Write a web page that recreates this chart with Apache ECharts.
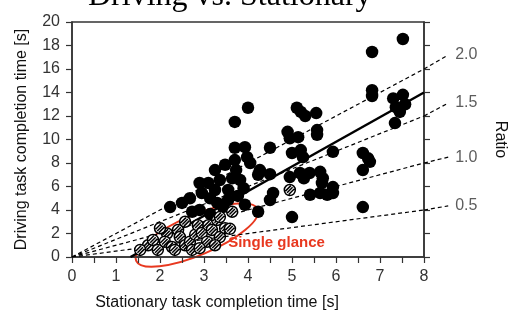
<!DOCTYPE html>
<html>
<head>
<meta charset="utf-8">
<script src="https://cdn.jsdelivr.net/npm/echarts@6/dist/echarts.min.js"></script>
<style>
  html, body { margin: 0; padding: 0; background: #fff; }
  #chart { width: 510px; height: 320px; }
</style>
</head>
<body>
<div id="chart"></div>
<script>
// tick labels
const xTicks = [0, 1, 2, 3, 4, 5, 6, 7, 8];
const yTicks = [0, 2, 4, 6, 8, 10, 12, 14, 16, 18, 20];

// multi-glance tasks (stationary s, driving s)
const multiGlance = [
  [7.52, 18.55], [6.82, 17.45], [6.82, 14.2], [6.82, 13.7], [7.30, 13.5],
  [7.52, 13.8], [7.36, 12.75], [7.57, 13.0], [7.45, 12.35], [7.34, 11.4],
  [4.0, 12.7], [3.70, 11.5], [5.11, 12.7], [5.2, 12.35], [5.3, 12.0],
  [5.55, 12.25], [5.57, 10.8], [5.57, 10.4], [4.9, 10.65], [4.95, 10.1],
  [5.14, 10.2], [5.0, 8.85], [5.2, 9.1], [5.25, 8.5], [4.5, 9.3],
  [3.7, 9.3], [3.93, 9.35], [3.7, 8.25], [3.98, 8.5], [4.05, 8.0],
  [5.93, 8.95], [6.61, 8.85], [6.73, 8.4], [6.77, 8.1], [4.27, 7.4],
  [4.5, 7.05], [5.64, 7.25], [6.61, 7.4], [5.68, 6.3], [5.93, 5.95],
  [5.93, 5.45], [6.61, 4.25], [4.23, 7.0], [4.95, 6.8], [5.18, 7.15],
  [5.27, 6.7], [5.4, 7.15], [5.7, 6.7], [4.5, 4.85], [4.23, 3.85],
  [5.0, 3.4], [5.41, 5.3], [5.64, 5.45], [5.8, 5.3], [4.57, 5.45],
  [2.23, 4.25], [2.5, 4.6], [2.9, 6.3], [2.95, 5.45], [3.1, 6.3],
  [3.36, 6.55], [3.25, 5.7], [3.3, 4.6], [2.9, 4.0], [3.43, 4.25],
  [3.64, 6.7], [3.73, 7.4], [3.82, 6.55], [3.55, 5.7], [3.77, 5.2],
  [3.9, 5.85], [3.55, 4.85], [3.14, 5.0], [2.68, 5.0], [2.73, 3.85],
  [3.14, 3.65], [3.48, 7.85], [3.25, 7.4], [3.93, 4.45]
];

// single-glance tasks
const singleGlance = [
  [1.73, 1.0], [1.84, 1.45], [1.95, 0.6], [2.16, 2.0], [2.11, 1.3],
  [2.27, 0.85], [2.41, 2.3], [2.45, 1.7], [2.57, 1.0], [2.68, 1.3],
  [2.8, 1.9], [2.73, 0.6], [2.86, 2.7], [2.95, 2.05], [3.1, 2.7],
  [3.18, 2.3], [3.07, 1.3], [3.3, 3.15], [3.36, 1.7], [3.25, 1.0],
  [3.48, 2.45], [3.59, 2.4], [3.64, 3.85], [3.36, 3.4], [4.95, 5.7],
  [2.0, 2.45], [2.57, 3.0], [2.34, 0.6], [1.55, 0.6], [2.9, 0.75]
];

// ratio reference lines and where their leaders end beside the right axis
const ratios = [2.0, 1.5, 1.0, 0.5];
const ratioLeaderY = [17.2, 13.1, 8.5, 4.35];
const ratioLeaderX = 8.55;

// fitted line
const fitLine = [[1.33, 0], [8, 14]];

// annotation
const glanceCenter = [2.84, 1.87];
const glanceLabelAt = [3.55, 1.2];

const font = '"Liberation Sans", Arial, sans-serif';
const axisColor = '#333';

const hatchSymbol = 'path://M10,0 A10,10 0 1,1 -10,0 A10,10 0 1,1 10,0 Z M-8,2 L2,-8 M-5,5 L5,-5 M-2,8 L8,-2';

const ratioSeries = ratios.map(r => ({
  type: 'line',
  data: [[0, 0], [8, 8 * r]],
  symbol: 'none',
  silent: true,
  z: 1,
  lineStyle: { color: '#000', width: 1.2, type: [4, 3] }
}));

const ratioLabels = {
  type: 'scatter',
  data: ratios.map((r, i) => [ratioLeaderX, ratioLeaderY[i], r]),
  symbolSize: 0,
  clip: false,
  silent: true,
  label: {
    show: true,
    position: 'right',
    distance: 7,
    formatter: p => p.value[2].toFixed(1),
    color: '#333',
    fontSize: 16,
    fontFamily: font
  }
};

const chart = echarts.init(document.getElementById('chart'));

const option = {
  animation: false,
  backgroundColor: '#fff',
  title: {
    text: 'Driving vs. Stationary',
    left: 83,
    top: -24,
    textStyle: { fontFamily: '"Liberation Serif", "Times New Roman", serif', fontSize: 32, fontWeight: 'normal', color: '#000' }
  },
  grid: {
    left: 72, right: 86, top: 22, bottom: 63,
    outerBoundsMode: 'none',
    containLabel: false,
    show: true, borderColor: axisColor, borderWidth: 1.5, backgroundColor: 'transparent'
  },
  xAxis: {
    type: 'value',
    min: 0, max: 8, interval: 0.5,
    name: 'Stationary task completion time [s]',
    nameLocation: 'middle',
    nameGap: 38,
    nameTextStyle: { fontFamily: font, fontSize: 16, color: '#111', padding: [0, 62, 0, 0] },
    axisLine: { lineStyle: { color: axisColor, width: 1.5 } },
    axisTick: { length: 6, lineStyle: { color: axisColor, width: 1.2 } },
    axisLabel: {
      margin: 12,
      fontFamily: font, fontSize: 16, color: '#333',
      formatter: v => (xTicks.includes(v) ? String(v) : '')
    },
    splitLine: { show: false }
  },
  yAxis: [{
    type: 'value',
    min: 0, max: 20, interval: 2,
    name: 'Driving task completion time [s]',
    nameLocation: 'middle',
    nameGap: 42,
    nameTextStyle: { fontFamily: font, fontSize: 16, color: '#111' },
    axisLine: { show: true, lineStyle: { color: axisColor, width: 1.5 } },
    axisTick: { show: true, length: 6, lineStyle: { color: axisColor, width: 1.2 } },
    axisLabel: {
      margin: 12,
      fontFamily: font, fontSize: 16, color: '#333',
      formatter: v => (yTicks.includes(v) ? String(v) : '')
    },
    splitLine: { show: false }
  }, {
    type: 'value',
    position: 'right',
    min: 0, max: 20, interval: 2,
    name: 'Ratio',
    nameLocation: 'middle',
    nameRotate: -90,
    nameGap: 68,
    nameTextStyle: { fontFamily: font, fontSize: 16, color: '#111' },
    axisLine: { show: true, lineStyle: { color: axisColor, width: 1.5 } },
    axisTick: { show: true, length: 6, lineStyle: { color: axisColor, width: 1.2 } },
    axisLabel: { show: false },
    splitLine: { show: false }
  }],
  series: [
    ...ratioSeries,
    ratioLabels,
    {
      type: 'line',
      data: fitLine,
      symbol: 'none',
      silent: true,
      z: 2,
      lineStyle: { color: '#000', width: 2.5 }
    },
    {
      type: 'scatter',
      data: multiGlance,
      symbol: 'circle',
      symbolSize: 12.5,
      z: 3,
      itemStyle: { color: '#000', opacity: 1 }
    },
    {
      type: 'scatter',
      data: singleGlance,
      symbol: hatchSymbol,
      symbolSize: 11,
      z: 4,
      itemStyle: { color: '#fff', borderColor: '#000', borderWidth: 1.5, opacity: 1 }
    }
  ]
};

chart.setOption(option);

// leaders from the ratio lines to their labels, the red ellipse and its label,
// all placed through the grid's scales
const toPx = p => chart.convertToPixel({ gridIndex: 0 }, p);
const leaders = ratios.map((r, i) => {
  const a = toPx([8, 8 * r]);
  const b = toPx([ratioLeaderX, ratioLeaderY[i]]);
  return {
    type: 'line',
    z: 5,
    shape: { x1: a[0], y1: a[1], x2: b[0], y2: b[1] },
    style: { stroke: '#000', lineWidth: 1.2, lineDash: [4, 3] }
  };
});
const c = toPx(glanceCenter);
const t = toPx(glanceLabelAt);
chart.setOption({
  graphic: [
    ...leaders,
    {
      type: 'group',
      x: c[0], y: c[1],
      rotation: 23 * Math.PI / 180,
      z: 10,
      children: [{
        type: 'ellipse',
        shape: { cx: 0, cy: 0, rx: 66, ry: 20 },
        style: { fill: 'none', stroke: '#e8381f', lineWidth: 2 }
      }]
    },
    {
      type: 'text',
      x: t[0], y: t[1],
      z: 10,
      style: {
        text: 'Single glance',
        fill: '#e8381f',
        font: 'bold 15px ' + font,
        verticalAlign: 'middle'
      }
    }
  ]
});
</script>
</body>
</html>
